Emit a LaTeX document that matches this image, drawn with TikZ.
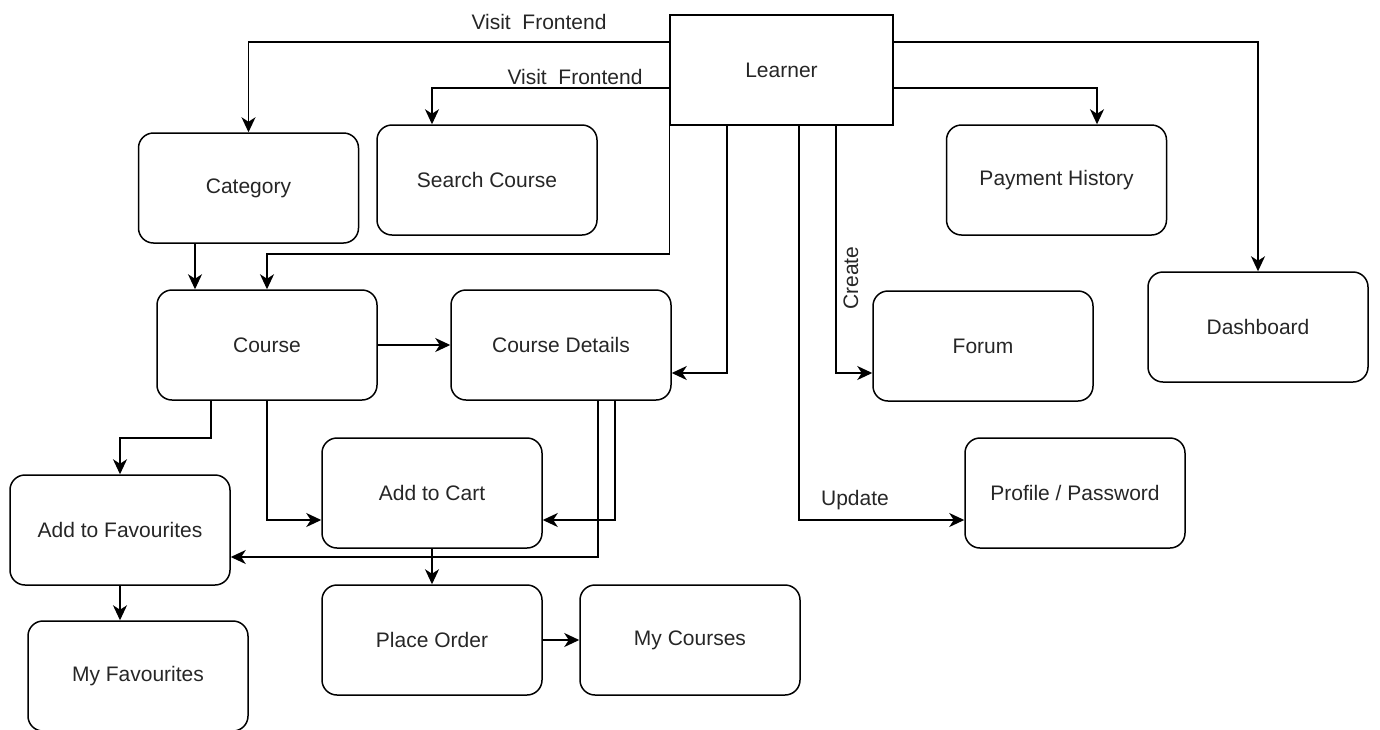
\documentclass[tikz,border=0pt]{standalone}
\usepackage{fontspec}
\setmainfont{Liberation Sans}
\usetikzlibrary{arrows.meta}
\tikzset{
  box/.style={draw, line width=1.5pt, rounded corners=15pt, minimum width=220pt, minimum height=110pt, inner sep=0pt, text=black!85, font=\fontsize{21}{25}\selectfont},
  sqbox/.style={draw, line width=1.5pt, minimum width=223pt, minimum height=110pt, inner sep=0pt, text=black!85, font=\fontsize{21}{25}\selectfont},
  arr/.style={line width=1.5pt, -{Stealth[length=15pt, width=14pt, inset=4.5pt]}},
  lbl/.style={text=black!85, font=\fontsize{21}{25}\selectfont, inner sep=0pt}
}
\begin{document}
\begin{tikzpicture}[x=1pt, y=-1pt]
\useasboundingbox (0,0) rectangle (1380,729);
\node[sqbox] (learner) at (781.5,70) {Learner};
\node[box] (category) at (248.5,188) {Category};
\node[box] (search) at (487,180) {Search Course};
\node[box] (course) at (267,345) {Course};
\node[box] (details) at (561,345) {Course Details};
\node[box] (fav) at (120,530) {Add to Favourites};
\node[box] (cart) at (432,493) {Add to Cart};
\node[box] (order) at (432,640) {Place Order};
\node[box] (mycourses) at (690,640) {My Courses};
\node[box] (myfav) at (138,676) {My Favourites};
\node[box] (payment) at (1056.5,180) {Payment History};
\node[box] (forum) at (983,346) {Forum};
\node[box] (dashboard) at (1258,327) {Dashboard};
\node[box] (profile) at (1075,493) {Profile / Password};

\draw[arr] (learner.west |- 0,42) -| (category.north);
\node[lbl] (l1) at (539,22) {Visit\ \ Frontend};
\draw[arr] (learner.west |- 0,88) -| (search.north -| 432,0);
\node[lbl] (l2) at (575,77) {Visit\ \ Frontend};
\draw[arr] (learner.east |- 0,42) -| (dashboard.north);
\draw[arr] (learner.east |- 0,88) -| (payment.north -| 1097,0);
\draw[arr] (learner.south west) -- (learner.south west |- 0,254) -| (course.north);
\draw[arr] (learner.south -| 727,0) |- (details.east |- 0,373);
\draw[arr] (learner.south -| 836,0) |- (forum.west |- 0,373);
\node[lbl, rotate=90] (l3) at (851,278) {Create};
\draw[arr] (learner.south -| 799,0) |- (profile.west |- 0,520);
\node[lbl] (l4) at (855,500) {Update};

\draw[arr] (category.south -| 195,0) -- (course.north -| 195,0);
\draw[arr] (course.east) -- (details.west);
\draw[arr] (course.south -| 211,0) -- ++(0,37) -| (fav.north);
\draw[arr] (course.south -| 267,0) |- (cart.west |- 0,520);
\draw[arr] (details.south -| 615,0) |- (cart.east |- 0,520);
\draw[arr] (details.south -| 598,0) |- (fav.east |- 0,557);
\draw[arr] (cart.south) -- (order.north);
\draw[arr] (order.east) -- (mycourses.west);
\draw[arr] (fav.south) -- (fav.south |- myfav.north);
\end{tikzpicture}
\end{document}
